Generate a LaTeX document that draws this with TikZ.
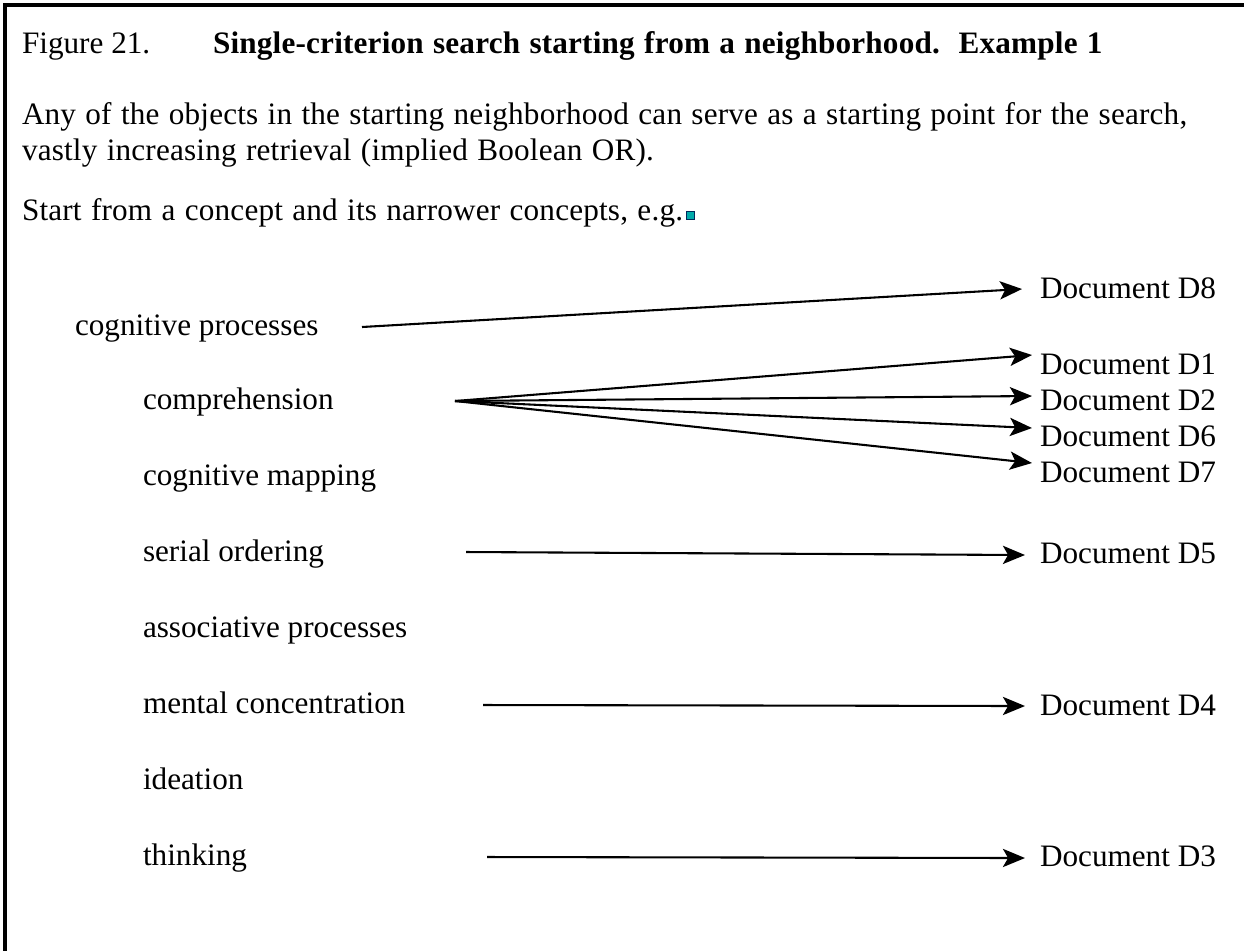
\documentclass[tikz,border=0pt]{standalone}
\usepackage{fontspec}
\setmainfont{Liberation Serif}
\usetikzlibrary{arrows.meta}
\definecolor{markfill}{RGB}{0,170,170}
\definecolor{markedge}{RGB}{0,40,90}
\begin{document}
\begin{tikzpicture}[x=0.3846pt, y=-0.3846pt,
  txt/.style={anchor=base west, inner sep=0pt, outer sep=0pt, font=\fontsize{12pt}{14pt}\selectfont},
  para/.style={txt, execute at begin node={\addfontfeature{LetterSpace=0.6}\spaceskip=3.6pt plus 1pt\relax}},
  link/.style={line width=0.8pt, -{Stealth[length=8.5pt, width=7pt, inset=2pt]}},
  frameline/.style={line width=1.3pt}]
\useasboundingbox (0,0) rectangle (1244,951);

% open frame: top and left edges
\draw[frameline] (3,5) -- (1244,5);
\draw[frameline] (5,3) -- (5,951);

% caption and explanatory text
\node[txt] (fig) at (22,53) {Figure 21.};
\node[para, font=\fontsize{12pt}{14pt}\selectfont\bfseries] (title) at (213,53)
  {Single-criterion search starting from a neighborhood.\ \ Example 1};
\node[para] (p1) at (22,124) {Any of the objects in the starting neighborhood can serve as a starting point for the search,};
\node[para] (p2) at (22,160) {vastly increasing retrieval (implied Boolean OR).};
\node[para] (p3) at (22,220) {Start from a concept and its narrower concepts, e.g.};
\node[anchor=south west, inner sep=0pt, minimum size=3pt, fill=markfill, draw=markedge, line width=0.5pt]
  (mark) at ([xshift=1.2pt]p3.base east) {};

% concepts
\node[txt] (c0) at (75,335)  {cognitive processes};
\node[txt] (c1) at (143,409) {comprehension};
\node[txt] (c2) at (143,485) {cognitive mapping};
\node[txt] (c3) at (143,561) {serial ordering};
\node[txt] (c4) at (143,637) {associative processes};
\node[txt] (c5) at (143,713) {mental concentration};
\node[txt] (c6) at (143,789) {ideation};
\node[txt] (c7) at (143,865) {thinking};

% documents
\node[txt] (d8) at (1040,298) {Document D8};
\node[txt] (d1) at (1040,374) {Document D1};
\node[txt] (d2) at (1040,410) {Document D2};
\node[txt] (d6) at (1040,446) {Document D6};
\node[txt] (d7) at (1040,482) {Document D7};
\node[txt] (d5) at (1040,563) {Document D5};
\node[txt] (d4) at (1040,715) {Document D4};
\node[txt] (d3) at (1040,866) {Document D3};

% connector ends
\coordinate (s0) at (362,327);
\coordinate (s1) at (455,401);
\coordinate (s3) at (466,552);
\coordinate (s5) at (483,705);
\coordinate (s7) at (487,857);
\coordinate (t8) at (1022,289);
\coordinate (t1) at (1032,355);
\coordinate (t2) at (1032,396);
\coordinate (t6) at (1032,428);
\coordinate (t7) at (1032,463);
\coordinate (t5) at (1025,555);
\coordinate (t4) at (1025,706);
\coordinate (t3) at (1025,858);

\draw[link] (s0) -- (t8);
\draw[link] (s1) -- (t1);
\draw[link] (s1) -- (t2);
\draw[link] (s1) -- (t6);
\draw[link] (s1) -- (t7);
\draw[link] (s3) -- (t5);
\draw[link] (s5) -- (t4);
\draw[link] (s7) -- (t3);
\end{tikzpicture}
\end{document}
